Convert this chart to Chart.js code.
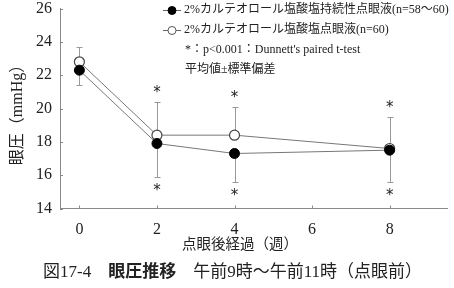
<!DOCTYPE html>
<html>
<head>
<meta charset="utf-8">
<script src="https://cdn.jsdelivr.net/npm/chart.js@4/dist/chart.umd.min.js"></script>
<style>
  html, body { margin: 0; padding: 0; background: #fff; }
  canvas { display: block; }
</style>
</head>
<body>
<canvas id="myChart" width="454" height="288"></canvas>
<script>
// data
const weeks = [0, 2, 4, 8];
const sustainedMean = [22.3, 17.9, 17.3, 17.5];
const sustainedSd = [0.9, 2.0, 1.7, 1.9];
const standardMean = [22.8, 18.4, 18.4, 17.6];
const standardSd = [0.9, 2.0, 1.7, 1.9];
const significant = [false, true, true, true];
const yTicks = [14, 16, 18, 20, 22, 24, 26];
const xTicks = [0, 2, 4, 6, 8];

const seriesLabels = [
  '2%カルテオロール塩酸塩持続性点眼液(n=58～60)',
  '2%カルテオロール塩酸塩点眼液(n=60)'
];
const noteLines = ['*：p<0.001：Dunnett\'s paired t-test', '平均値±標準偏差'];
const yTitle = '眼圧（mmHg）';
const xTitle = '点眼後経過（週）';
const captionParts = ['図17-4　', '眼圧推移', '　午前9時～午前11時（点眼前）'];

const FONT = '"Liberation Serif", "Noto Sans CJK JP", serif';
const ink = '#222';
const grey = '#8a8a8a';

var ctx = document.getElementById("myChart");

function toPoints(means) {
  return weeks.map((w, i) => ({ x: w, y: means[i] }));
}

// error bars (open series goes up, filled series goes down) and asterisks
const errorBars = {
  id: 'errorBars',
  beforeDatasetsDraw(chart) {
    const c = chart.ctx, xs = chart.scales.x, ys = chart.scales.y;
    c.save();
    c.strokeStyle = '#999';
    c.lineWidth = 1;
    weeks.forEach((w, i) => {
      const px = Math.round(xs.getPixelForValue(w)) + 0.5;
      const segs = [
        [standardMean[i], standardMean[i] + standardSd[i]],
        [sustainedMean[i], sustainedMean[i] - sustainedSd[i]]
      ];
      segs.forEach(([a, b]) => {
        const ya = ys.getPixelForValue(a), yb = Math.round(ys.getPixelForValue(b)) + 0.5;
        c.beginPath();
        c.moveTo(px, ya); c.lineTo(px, yb);
        c.moveTo(px - 3, yb); c.lineTo(px + 3, yb);
        c.stroke();
      });
    });
    c.restore();
  },
  afterDatasetsDraw(chart) {
    const c = chart.ctx, xs = chart.scales.x, ys = chart.scales.y;
    c.save();
    c.fillStyle = ink;
    c.font = '15px "DejaVu Sans"';
    c.textAlign = 'center';
    c.textBaseline = 'middle';
    weeks.forEach((w, i) => {
      if (!significant[i]) return;
      const px = xs.getPixelForValue(w);
      const top = ys.getPixelForValue(standardMean[i] + standardSd[i]);
      const bot = ys.getPixelForValue(sustainedMean[i] - sustainedSd[i]);
      c.fillText('*', px, top - 9);
      c.fillText('*', px, bot + 14);
    });
    c.restore();
  }
};

// axis ticks drawn inward, titles, legend and caption
const decorations = {
  id: 'decorations',
  afterDraw(chart) {
    const c = chart.ctx, xs = chart.scales.x, ys = chart.scales.y;
    const area = chart.chartArea;
    c.save();
    c.strokeStyle = grey;
    c.lineWidth = 1;
    c.beginPath();
    xTicks.forEach(t => {
      const px = Math.round(xs.getPixelForValue(t)) + 0.5;
      c.moveTo(px, area.bottom); c.lineTo(px, area.bottom - 3);
    });
    yTicks.forEach(t => {
      const py = Math.round(ys.getPixelForValue(t)) + 0.5;
      c.moveTo(area.left, py); c.lineTo(area.left + 3, py);
    });
    c.stroke();

    c.fillStyle = ink;
    // y title
    c.save();
    c.translate(18, 111);
    c.rotate(-Math.PI / 2);
    c.font = '16px ' + FONT;
    c.textAlign = 'center';
    c.textBaseline = 'middle';
    c.fillText(yTitle, 0, 0);
    c.restore();

    // x title
    c.font = '14.5px ' + FONT;
    c.textAlign = 'center';
    c.textBaseline = 'middle';
    c.fillText(xTitle, 240, 245);

    // caption, middle part bold
    c.textAlign = 'left';
    let cx = 43;
    captionParts.forEach((part, k) => {
      c.font = (k === 1 ? 'bold ' : '') + '17px ' + FONT;
      c.fillText(part, cx, 273);
      cx += c.measureText(part).width;
    });

    // legend
    c.font = '12px ' + FONT;
    c.textBaseline = 'middle';
    seriesLabels.forEach((lab, k) => {
      const ly = 10 + k * 20;
      c.strokeStyle = '#666';
      c.beginPath();
      c.moveTo(163, ly + 0.5); c.lineTo(181, ly + 0.5);
      c.stroke();
      c.beginPath();
      c.arc(172, ly + 0.5, 4, 0, Math.PI * 2);
      c.fillStyle = k === 0 ? '#000' : '#fff';
      c.fill();
      c.strokeStyle = k === 0 ? '#000' : '#555';
      c.stroke();
      c.fillStyle = ink;
      c.fillText(lab, 184, ly);
    });
    noteLines.forEach((t, k) => {
      c.fillText(t, 185, 50 + k * 20);
    });
    c.restore();
  }
};

var myChart = new Chart(ctx, {
  type: 'line',
  data: {
    datasets: [{
      label: seriesLabels[0],
      data: toPoints(sustainedMean),
      borderColor: '#777',
      borderWidth: 1,
      pointRadius: 5,
      pointBackgroundColor: '#000',
      pointBorderColor: '#000',
      pointBorderWidth: 1
    }, {
      label: seriesLabels[1],
      data: toPoints(standardMean),
      borderColor: '#777',
      borderWidth: 1,
      pointRadius: 5,
      pointBackgroundColor: '#fff',
      pointBorderColor: '#444',
      pointBorderWidth: 1.2
    }]
  },
  options: {
    responsive: false,
    animation: false,
    layout: { padding: { top: 8.5, right: 2, left: 0, bottom: 0 } },
    plugins: { legend: { display: false }, tooltip: { enabled: false } },
    scales: {
      x: {
        type: 'linear',
        min: -0.5,
        max: 9.5,
        afterBuildTicks: s => { s.ticks = xTicks.map(v => ({ value: v })); },
        afterFit: s => { s.height = 79.5; s.paddingLeft = 0; s.paddingRight = 0; },
        grid: { display: false, drawTicks: false },
        border: { display: true, color: grey, width: 1 },
        ticks: { color: ink, padding: 12, maxRotation: 0, font: { family: FONT, size: 16 } }
      },
      y: {
        min: 14,
        max: 26,
        afterBuildTicks: s => { s.ticks = yTicks.map(v => ({ value: v })); },
        afterFit: s => { s.width = 60; s.paddingTop = 0; s.paddingBottom = 0; },
        grid: { display: false, drawTicks: false },
        border: { display: true, color: grey, width: 1 },
        ticks: { color: ink, padding: 8, font: { family: FONT, size: 16 } }
      }
    }
  },
  plugins: [errorBars, decorations]
});
</script>
</body>
</html>
